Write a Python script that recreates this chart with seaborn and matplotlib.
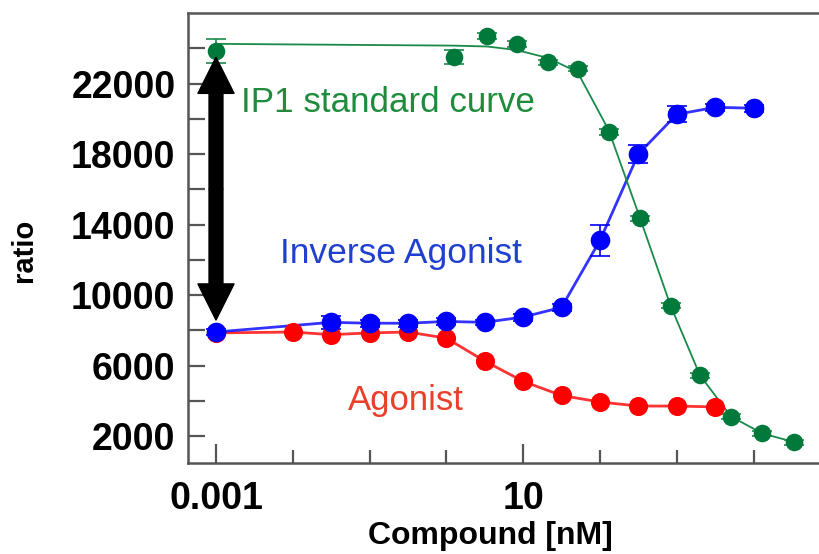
import numpy as np
import pandas as pd
import matplotlib
matplotlib.use("Agg")
import matplotlib.pyplot as plt
import seaborn as sns

sns.set_theme(style="ticks")
plt.rcParams["font.family"] = ["Liberation Sans", "DejaVu Sans"]
plt.rcParams["text.color"] = "black"
plt.rcParams["axes.labelcolor"] = "black"

# values
agonist_conc = [0.001, 0.01, 0.0316, 0.1, 0.316, 1, 3.16, 10, 31.6, 100, 316, 1000, 3162]
agonist_ratio = [7850, 7900, 7750, 7850, 7900, 7550, 6250, 5100, 4300, 3930, 3700, 3700, 3650]

inverse_conc = [0.001, 0.0316, 0.1, 0.316, 1, 3.16, 10, 31.6, 100, 316, 1000, 3162, 10000]
inverse_ratio = [7900, 8450, 8400, 8400, 8500, 8450, 8750, 9300, 13100, 18000, 20250, 20650, 20600]
inverse_err = [150, 350, 200, 200, 200, 150, 200, 200, 900, 500, 450, 200, 200]

ip1_conc = [0.001, 1.25, 3.4, 8.2, 21, 51, 130, 330, 830, 2000, 5100, 13000, 34000]
ip1_ratio = [23850, 23500, 24700, 24250, 23200, 22850, 19250, 14350, 9400, 5450, 3100, 2150, 1650]
ip1_err = [700, 400, 150, 150, 150, 150, 150, 150, 150, 150, 150, 150, 150]
# fitted standard curve as drawn (read at the same concentrations)
ip1_fit = [24250, 24150, 24100, 23900, 23450, 22650, 19350, 14400, 9400, 5450, 3100, 2150, 1650]

green = "#00793a"
blue = "#0000ff"
red = "#ff0000"

fig = plt.figure(figsize=(8.19, 5.54), dpi=100)
ax = fig.add_axes([0.2295, 0.1643, 0.7705, 0.8122])

df_ag = pd.DataFrame({"conc": agonist_conc, "ratio": agonist_ratio})
df_inv = pd.DataFrame({"conc": inverse_conc, "ratio": inverse_ratio})
df_ip1 = pd.DataFrame({"conc": ip1_conc, "ratio": ip1_ratio, "fit": ip1_fit})

# curves
sns.lineplot(data=df_ag, x="conc", y="ratio", color=red, lw=2, alpha=0.8, ax=ax)
sns.lineplot(data=df_inv, x="conc", y="ratio", color=blue, lw=2, alpha=0.8, ax=ax)
sns.lineplot(data=df_ip1, x="conc", y="fit", color="#1a8a4a", lw=1.3, ax=ax)

# error bars
ax.errorbar(inverse_conc, inverse_ratio, yerr=inverse_err, fmt="none",
            ecolor=blue, elinewidth=1.2, capsize=7, capthick=1.2)
ax.errorbar(ip1_conc, ip1_ratio, yerr=ip1_err, fmt="none",
            ecolor="#1a8a4a", elinewidth=1.2, capsize=7, capthick=1.2)

# markers
sns.scatterplot(data=df_ag, x="conc", y="ratio", color=red, s=190, linewidth=0, ax=ax, zorder=3)
sns.scatterplot(data=df_inv, x="conc", y="ratio", color=blue, s=200, linewidth=0, ax=ax, zorder=4)
sns.scatterplot(data=df_ip1, x="conc", y="ratio", color=green, s=160, linewidth=0, ax=ax, zorder=3)

ax.set_xscale("log")
ax.set_xlim(10 ** -3.365, 10 ** 4.852)
ax.set_ylim(470, 26000)

ax.set_xticks([0.001, 10])
ax.set_xticklabels(["0.001", "10"])
ax.set_xticks([0.01, 0.1, 1, 100, 1000, 10000], minor=True)
ax.set_xticklabels([], minor=True)
ax.set_yticks([2000, 6000, 10000, 14000, 18000, 22000])
ax.set_yticks([4000, 8000, 12000, 16000, 20000, 24000], minor=True)

for lab in ax.get_xticklabels() + ax.get_yticklabels():
    lab.set_fontsize(27)
    lab.set_fontweight("bold")

ax.tick_params(axis="both", which="both", direction="in", color="#555555",
               width=1.6, labelcolor="black")
ax.tick_params(axis="x", which="major", length=14, pad=13)
ax.tick_params(axis="x", which="minor", length=9.5)
ax.tick_params(axis="y", which="both", length=12, pad=9)

ax.spines["right"].set_visible(False)
for side in ["left", "bottom", "top"]:
    ax.spines[side].set_color("#555555")
    ax.spines[side].set_linewidth(1.8)

ax.set_xlabel("Compound [nM]", fontsize=23, fontweight="bold")
ax.set_ylabel("ratio", fontsize=21, fontweight="bold")
ax.xaxis.set_label_coords(0.4786, -0.128)
ax.yaxis.set_label_coords(-0.237, 0.473)

# curve labels
ax.text(10 ** -2.67, 20370, "IP1 standard curve", color="#1e8c3c", fontsize=25.2, va="baseline")
ax.text(10 ** -2.167, 11810, "Inverse Agonist", color="#2040d0", fontsize=25.5, va="baseline")
ax.text(10 ** -1.28, 3470, "Agonist", color="#e8402a", fontsize=25, va="baseline")

# window double arrow
arrow = dict(facecolor="black", edgecolor="black", width=10, headwidth=26,
             headlength=26, shrink=0)
ax.annotate("", xy=(0.001, 23490), xytext=(0.001, 16000), arrowprops=arrow, zorder=6)
ax.annotate("", xy=(0.001, 8580), xytext=(0.001, 16000), arrowprops=arrow, zorder=6)

fig.savefig("out.png", dpi=100)
